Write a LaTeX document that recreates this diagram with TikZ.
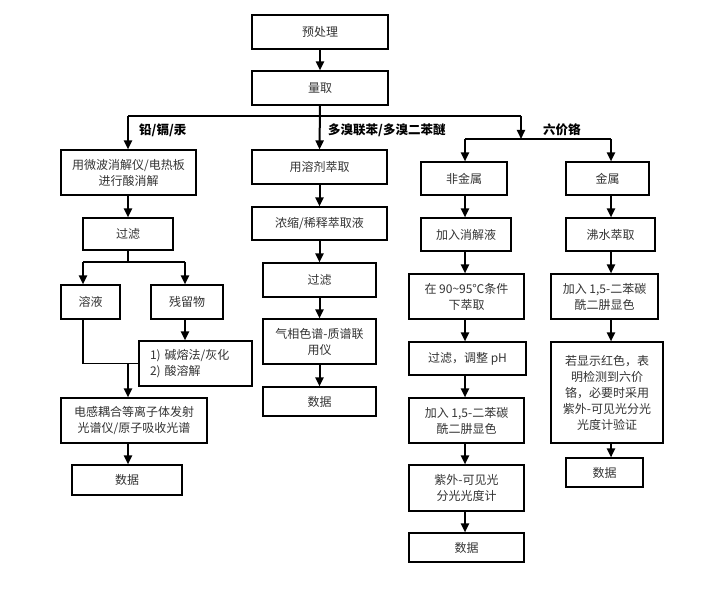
\documentclass[tikz,border=0pt]{standalone}
\usepackage{fontspec}
\setmainfont{Noto Sans CJK SC}
\usetikzlibrary{arrows.meta}
\begin{document}
\begin{tikzpicture}[x=1pt,y=-1pt,
  box/.style={draw=black, line width=1.1pt, inner sep=0pt, align=center,
    font=\fontsize{12}{16}\selectfont, text=black!80},
  arr/.style={line width=2pt, -{Triangle[length=9pt,width=8pt]}},
  ln/.style={line width=1.1pt},
  lbl/.style={font=\fontsize{12.5}{15}\selectfont\bfseries, anchor=west, inner sep=0pt}]
\useasboundingbox (0,0) rectangle (709,593);

% top
\node[box, minimum width=136, minimum height=34] (pre) at (320,32) {预处理};
\node[box, minimum width=136, minimum height=34] (liang) at (320,88) {量取};

% column A
\node[box, minimum width=135, minimum height=45] (a1) at (128.5,172.5) {用微波消解仪/电热板\\进行酸消解};
\node[box, minimum width=90, minimum height=32] (a2) at (128,234) {过滤};
\node[box, minimum width=59, minimum height=34] (a3) at (90.5,302) {溶液};
\node[box, minimum width=72, minimum height=34] (a4) at (187,302) {残留物};
\node[box, minimum width=113, minimum height=45, text width=91, inner xsep=11, align=left] (a5) at (195.5,363.5) {1) 碱熔法/灰化\\2) 酸溶解};
\node[box, minimum width=146, minimum height=45] (a6) at (134,420.5) {电感耦合等离子体发射\\光谱仪/原子吸收光谱};
\node[box, minimum width=110, minimum height=30] (a7) at (127,480) {数据};

% column B
\node[box, minimum width=135, minimum height=34] (b1) at (319.5,167) {用溶剂萃取};
\node[box, minimum width=135, minimum height=33] (b2) at (319.5,223.5) {浓缩/稀释萃取液};
\node[box, minimum width=113, minimum height=34] (b3) at (319.5,280) {过滤};
\node[box, minimum width=113, minimum height=45] (b4) at (319.5,341.5) {气相色谱-质谱联\\用仪};
\node[box, minimum width=113, minimum height=29] (b5) at (319.5,401.5) {数据};

% column C
\node[box, minimum width=86, minimum height=33] (c1) at (464,178.5) {非金属};
\node[box, minimum width=90, minimum height=33] (c2) at (466,234.5) {加入消解液};
\node[box, minimum width=115, minimum height=45] (c3) at (466.5,296.5) {在 90\textasciitilde95℃条件\\下萃取};
\node[box, minimum width=117, minimum height=33] (c4) at (467.5,358.5) {过滤，调整 pH};
\node[box, minimum width=115, minimum height=45] (c5) at (466.5,420.5) {加入 1,5-二苯碳\\酰二肼显色};
\node[box, minimum width=115, minimum height=46] (c6) at (466.5,488) {紫外-可见光\\分光光度计};
\node[box, minimum width=115, minimum height=29] (c7) at (466.5,547.5) {数据};

% column D
\node[box, minimum width=83, minimum height=33] (d1) at (607.5,178.5) {金属};
\node[box, minimum width=89, minimum height=33] (d2) at (610.5,234.5) {沸水萃取};
\node[box, minimum width=107, minimum height=45] (d3) at (604.5,296.5) {加入 1,5-二苯碳\\酰二肼显色};
\node[box, minimum width=112, minimum height=101] (d4) at (607,392.5) {若显示红色，表\\明检测到六价\\铬，必要时采用\\紫外-可见光分光\\光度计验证};
\node[box, minimum width=77, minimum height=29] (d5) at (604.5,472.5) {数据};

% labels
\node[lbl] (l1) at (139,130) {铅/镉/汞};
\node[lbl] (l2) at (328,130) {多溴联苯/多溴二苯醚};
\node[lbl] (l3) at (543,130) {六价铬};

% helper coordinates
\coordinate (h1L) at (128,116);
\coordinate (h1R) at (521,116);
\coordinate (h2R0) at (521,139);
\coordinate (h2L) at (465,139);
\coordinate (h2R) at (611,139);
\coordinate (h3L) at (83,262);
\coordinate (h3R) at (185,262);
\coordinate (xA) at (128,0);
\coordinate (j1) at (128,364);

% connectors top
\draw[arr] (pre) -- (liang);
\draw[arr] (liang.south) -- (b1.north);
\draw[ln] (h1L) -- (h1R);
\draw[arr] (h1L) -- (a1.north -| h1L);
\draw[arr] (h1R) -- (h2R0);

% column A
\draw[arr] (a1.south -| xA) -- (a2.north -| xA);
\draw[ln] (a2.south) -- (a2.south |- h3L);
\draw[ln] (h3L) -- (h3R);
\draw[arr] (h3L) -- (a3.north -| h3L);
\draw[arr] (h3R) -- (a4.north -| h3R);
\draw[arr] (a4.south -| h3R) -- (a5.north -| h3R);
\draw[ln] (a3.south -| h3L) |- (a5.west);
\draw[arr] (j1) -- (a6.north -| j1);
\draw[arr] (a6.south -| xA) -- (a7.north -| xA);

% column B
\draw[arr] (b1) -- (b2);
\draw[arr] (b2) -- (b3);
\draw[arr] (b3) -- (b4);
\draw[arr] (b4) -- (b5);

% column C and D
\draw[ln] (h2L) -- (h2R);
\draw[arr] (h2L) -- (c1.north -| h2L);
\draw[arr] (h2R) -- (d1.north -| h2R);
\draw[arr] (c1.south -| h2L) -- (c2.north -| h2L);
\draw[arr] (c2.south -| h2L) -- (c3.north -| h2L);
\draw[arr] (c3.south -| h2L) -- (c4.north -| h2L);
\draw[arr] (c4.south -| h2L) -- (c5.north -| h2L);
\draw[arr] (c5.south -| h2L) -- (c6.north -| h2L);
\draw[arr] (c6.south -| h2L) -- (c7.north -| h2L);
\draw[arr] (d1.south -| h2R) -- (d2.north -| h2R);
\draw[arr] (d2.south -| h2R) -- (d3.north -| h2R);
\draw[arr] (d3.south -| h2R) -- (d4.north -| h2R);
\draw[arr] (d4.south -| h2R) -- (d5.north -| h2R);
\end{tikzpicture}
\end{document}
